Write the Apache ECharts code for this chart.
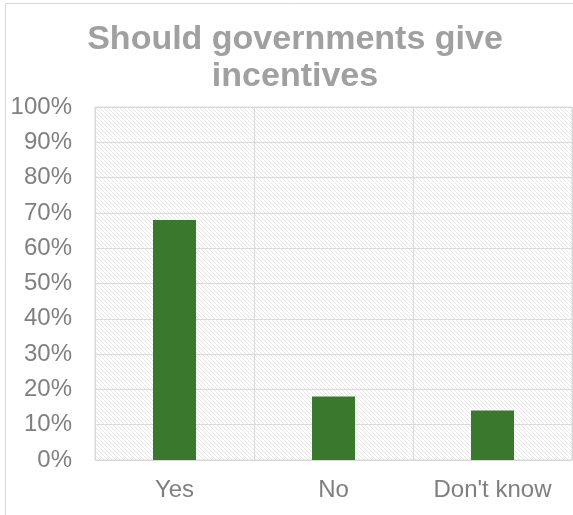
<!DOCTYPE html>
<html><head><meta charset="utf-8">
<script src="https://cdn.jsdelivr.net/npm/echarts@6/dist/echarts.min.js"></script>
<style>html,body{margin:0;padding:0;background:#fff}#c{width:573px;height:515px}</style>
</head><body><div id="c"></div>
<script>
var titleText = 'Should governments give\nincentives';
var categories = ['Yes', 'No', "Don't know"];
var values = [68, 18, 14];
var yTicks = [0, 10, 20, 30, 40, 50, 60, 70, 80, 90, 100];

function hatch() {
  var c = document.createElement('canvas');
  c.width = 4; c.height = 4;
  var g = c.getContext('2d');
  g.fillStyle = '#ffffff'; g.fillRect(0, 0, 4, 4);
  g.strokeStyle = '#e6e6e6'; g.lineWidth = 1;
  g.beginPath();
  g.moveTo(-1, -1); g.lineTo(5, 5);
  g.moveTo(-1, 3); g.lineTo(1, 5);
  g.moveTo(3, -1); g.lineTo(5, 1);
  g.stroke();
  return c;
}

var chart = echarts.init(document.getElementById('c'));
chart.setOption({
  animation: false,
  title: {
    text: titleText, left: 290, top: 16, textAlign: 'center',
    textStyle: { fontFamily: 'Liberation Sans, Arial', fontWeight: 'bold', fontSize: 34, lineHeight: 37, color: '#a0a0a0' }
  },
  graphic: [{
    type: 'rect', shape: { x: 5.5, y: 3.5, width: 600, height: 600 },
    style: { fill: 'none', stroke: '#d9d9d9', lineWidth: 1 }, z: -10
  }],
  grid: {
    left: 95, right: 1, top: 107, bottom: 55, show: true,
    backgroundColor: { image: hatch(), repeat: 'repeat' },
    borderColor: '#d9d9d9', borderWidth: 1
  },
  xAxis: {
    type: 'category', data: categories,
    axisLine: { show: false }, axisTick: { show: false },
    splitLine: { show: true, interval: 0, lineStyle: { color: '#d9d9d9', width: 1 } },
    axisLabel: { margin: 18, fontFamily: 'Liberation Sans, Arial', fontSize: 24, color: '#7f7f7f' }
  },
  yAxis: {
    type: 'value', min: 0, max: 100, interval: 10,
    axisLine: { show: false }, axisTick: { show: false },
    splitLine: { lineStyle: { color: '#d9d9d9', width: 1 } },
    axisLabel: {
      margin: 23, fontFamily: 'Liberation Sans, Arial', fontSize: 24, color: '#808080',
      formatter: function (v) { return yTicks.indexOf(v) >= 0 ? v + '%' : ''; }
    }
  },
  series: [{
    type: 'bar', data: values, barWidth: 43,
    itemStyle: { color: '#3a792d' }
  }]
});
</script></body></html>
